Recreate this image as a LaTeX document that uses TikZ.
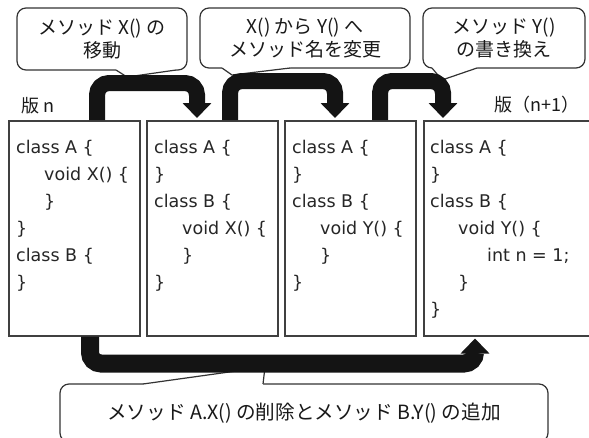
\documentclass[tikz,border=0pt]{standalone}
\usepackage{fontspec}
\newfontfamily\jp{Noto Sans CJK JP}
\newfontfamily\codefont{DejaVu Sans}
\usetikzlibrary{arrows.meta}
\begin{document}
\begin{tikzpicture}[x=1pt,y=-1pt,
  codebox/.style={draw=black!75, line width=1.5pt, minimum width=131pt, minimum height=215pt, inner sep=0pt, anchor=north west},
  code/.style={font=\codefont\fontsize{17.5}{21}\selectfont, anchor=base west, inner sep=0pt, text=black!85},
  callout/.style={draw=black!80, line width=1.2pt, rounded corners=9pt, fill=white, inner sep=0pt,
    font=\jp\fontsize{19}{23}\selectfont, align=center, text=black!90},
  wedgeline/.style={draw=black!80, line width=1.2pt, line join=round},
  label/.style={font=\jp\fontsize{18}{22}\selectfont, anchor=west, inner sep=0pt, text=black!90},
  bigarrow/.style={draw=black!92, line width=16pt, rounded corners=12pt, -{Triangle[width=28pt,length=15pt]}},
]
\useasboundingbox (0,0) rectangle (589,437);
\clip (0,0) rectangle (589,437);
\fill[white] (0,0) rectangle (589,437);

% version boxes
\node[codebox] (b1) at (8,120) {};
\node[codebox] (b2) at (146,120) {};
\node[codebox] (b3) at (284,120) {};
\node[codebox, minimum width=190pt] (b4) at (423,120) {};

% box 1
\node[code] (b1l1) at (16,153) {class A \{};
\node[code] (b1l2) at (44,180) {void X() \{};
\node[code] (b1l3) at (44,207) {\}};
\node[code] (b1l4) at (16,234) {\}};
\node[code] (b1l5) at (16,261) {class B \{};
\node[code] (b1l6) at (16,288) {\}};
% box 2
\node[code] (b2l1) at (154,153) {class A \{};
\node[code] (b2l2) at (154,180) {\}};
\node[code] (b2l3) at (154,207) {class B \{};
\node[code] (b2l4) at (182,234) {void X() \{};
\node[code] (b2l5) at (182,261) {\}};
\node[code] (b2l6) at (154,288) {\}};
% box 3
\node[code] (b3l1) at (292,153) {class A \{};
\node[code] (b3l2) at (292,180) {\}};
\node[code] (b3l3) at (292,207) {class B \{};
\node[code] (b3l4) at (320,234) {void Y() \{};
\node[code] (b3l5) at (320,261) {\}};
\node[code] (b3l6) at (292,288) {\}};
% box 4
\node[code] (b4l1) at (430,153) {class A \{};
\node[code] (b4l2) at (430,180) {\}};
\node[code] (b4l3) at (430,207) {class B \{};
\node[code] (b4l4) at (458,234) {void Y() \{};
\node[code] (b4l5) at (487,261) {int n = 1;};
\node[code] (b4l6) at (458,288) {\}};
\node[code] (b4l7) at (430,315) {\}};

% version labels
\node[label] (vn) at (21,106) {版 n};
\node[label] (vn1) at (494,105) {版（n+1）};

% callouts
\node[callout, minimum width=170pt, minimum height=62pt] (c1) at (102,39) {メソッド X() の\\移動};
\fill[white] (116,66) -- (116,70) -- (127,77) -- (176,70) -- (176,66) -- cycle;
\draw[wedgeline] (116,70) -- (127,77) -- (176,70);

\node[callout, minimum width=210pt, minimum height=60pt] (c2) at (305,38) {X() から Y() へ\\メソッド名を変更};
\fill[white] (222,64) -- (222,68) -- (232,75) -- (290,68) -- (290,64) -- cycle;
\draw[wedgeline] (222,68) -- (232,75) -- (290,68);

\node[callout, minimum width=162pt, minimum height=60pt] (c3) at (504,38) {メソッド Y()\\の書き換え};
\fill[white] (432,64) -- (432,68) -- (442,80) -- (477,68) -- (477,64) -- cycle;
\draw[wedgeline] (432,68) -- (442,80) -- (477,68);

\node[callout, minimum width=488pt, minimum height=58pt, font=\jp\fontsize{19.6}{23}\selectfont] (c4) at (304,413) {メソッド A.X() の削除とメソッド B.Y() の追加};
\fill[white] (143,388) -- (143,384) -- (265,367) -- (263,384) -- (263,388) -- cycle;
\draw[wedgeline] (143,384) -- (265,367) -- (263,384);

% arrows
\draw[bigarrow] ([xshift=89pt]b1.north west) -- ++(0,-37) -| ([xshift=51pt,yshift=2pt]b2.north west);
\draw[bigarrow] ([xshift=84pt]b2.north west) -- ++(0,-39) -| ([xshift=51pt,yshift=2pt]b3.north west);
\draw[bigarrow] ([xshift=96pt]b3.north west) -- ++(0,-39) -| ([xshift=20pt,yshift=2pt]b4.north west);
\draw[bigarrow, line width=18pt, rounded corners=11pt] ([xshift=82pt]b1.south west) -- ++(0,27) -| ([xshift=52pt,yshift=-2pt]b4.south west);
\end{tikzpicture}
\end{document}
